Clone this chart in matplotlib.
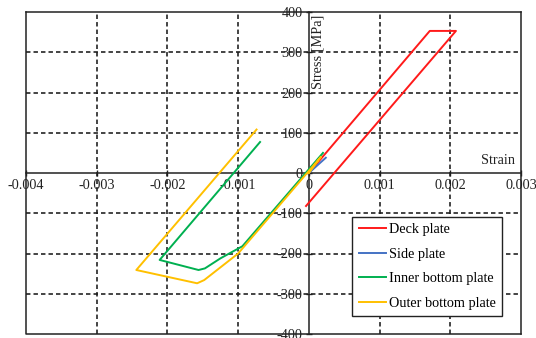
import matplotlib
matplotlib.use('Agg')
import matplotlib.pyplot as plt

plt.rcParams['font.family'] = ['Liberation Serif', 'DejaVu Serif']
plt.rcParams['axes.unicode_minus'] = False
plt.rcParams['lines.scale_dashes'] = False

# Stress-strain paths (strain, stress in MPa)
deck_x = [0, 0.00171, 0.00208, -0.00004]
deck_y = [0, 353, 353, -82]

side_x = [0, 0.00024]
side_y = [0, 38]

inner_x = [0.0002, -0.00094, -0.00125, -0.00147, -0.00156, -0.00211, -0.00069]
inner_y = [50, -182, -212, -237, -241, -216, 77]

outer_x = [0, 0.00017, -0.00100, -0.00148, -0.00158, -0.00244, -0.00074]
outer_y = [0, 40, -200, -266, -274, -241, 108]

x_ticks = [-0.004, -0.003, -0.002, -0.001, 0, 0.001, 0.002, 0.003]
x_labels = ['-0.004', '-0.003', '-0.002', '-0.001', '0', '0.001', '0.002', '0.003']
y_ticks = [-400, -300, -200, -100, 0, 100, 200, 300, 400]
y_labels = ['-400', '-300', '-200', '-100', '0', '100', '200', '300', '400']

fig = plt.figure(figsize=(5.36, 3.38), dpi=100)
ax = fig.add_axes([26 / 536, 4 / 338, 495 / 536, 322 / 338])
ax.set_xlim(-0.004, 0.003)
ax.set_ylim(-400, 400)

# axes crossing at the origin, plus a closed outer box
ax.spines['left'].set_position('zero')
ax.spines['bottom'].set_position('zero')
for s in ax.spines.values():
    s.set_linewidth(1.1)
    s.set_color('#222222')
ax.plot([0, 0, 1], [1, 0, 0], transform=ax.transAxes, color='#222222',
        lw=1.1, clip_on=False, zorder=3)

ax.set_xticks(x_ticks)
ax.set_xticklabels(x_labels)
ax.set_yticks(y_ticks)
ax.set_yticklabels(y_labels)
ax.tick_params(direction='inout', length=5, width=1, labelsize=10.3,
               colors='#222222', pad=2)
ax.set_axisbelow(True)

# dashed grid drawn over the tick labels, like the original
for v in x_ticks[1:-1]:
    if v != 0:
        ax.axvline(v, color='#1a1a1a', lw=1.15, dashes=(3.2, 2.2), zorder=1)
for v in y_ticks[1:-1]:
    if v != 0:
        ax.axhline(v, color='#1a1a1a', lw=1.15, dashes=(3.2, 2.2), zorder=1)

lw = 1.4
ax.plot(deck_x, deck_y, color='#ff1a1a', lw=lw, label='Deck plate', zorder=4)
ax.plot(side_x, side_y, color='#4472c4', lw=lw, label='Side plate', zorder=4)
ax.plot(inner_x, inner_y, color='#00b050', lw=lw, label='Inner bottom plate', zorder=4)
ax.plot(outer_x, outer_y, color='#ffc000', lw=lw, label='Outer bottom plate', zorder=4)

ax.text(0.00004, 393, 'Stress [MPa]', rotation=90, ha='left', va='top',
        fontsize=10.3, color='#222222')
ax.text(0.00291, 31, 'Strain', ha='right', va='center', fontsize=10.3,
        color='#222222')

leg = ax.legend(loc='upper left', bbox_to_anchor=(0.659, 0.364),
                borderaxespad=0, fontsize=10.3, handlelength=1.9,
                handletextpad=0.2, labelspacing=0.8, borderpad=0.45,
                fancybox=False, framealpha=1, edgecolor='#222222')
leg.get_frame().set_linewidth(1.0)
leg.set_zorder(6)

fig.savefig('out.png', dpi=100)
